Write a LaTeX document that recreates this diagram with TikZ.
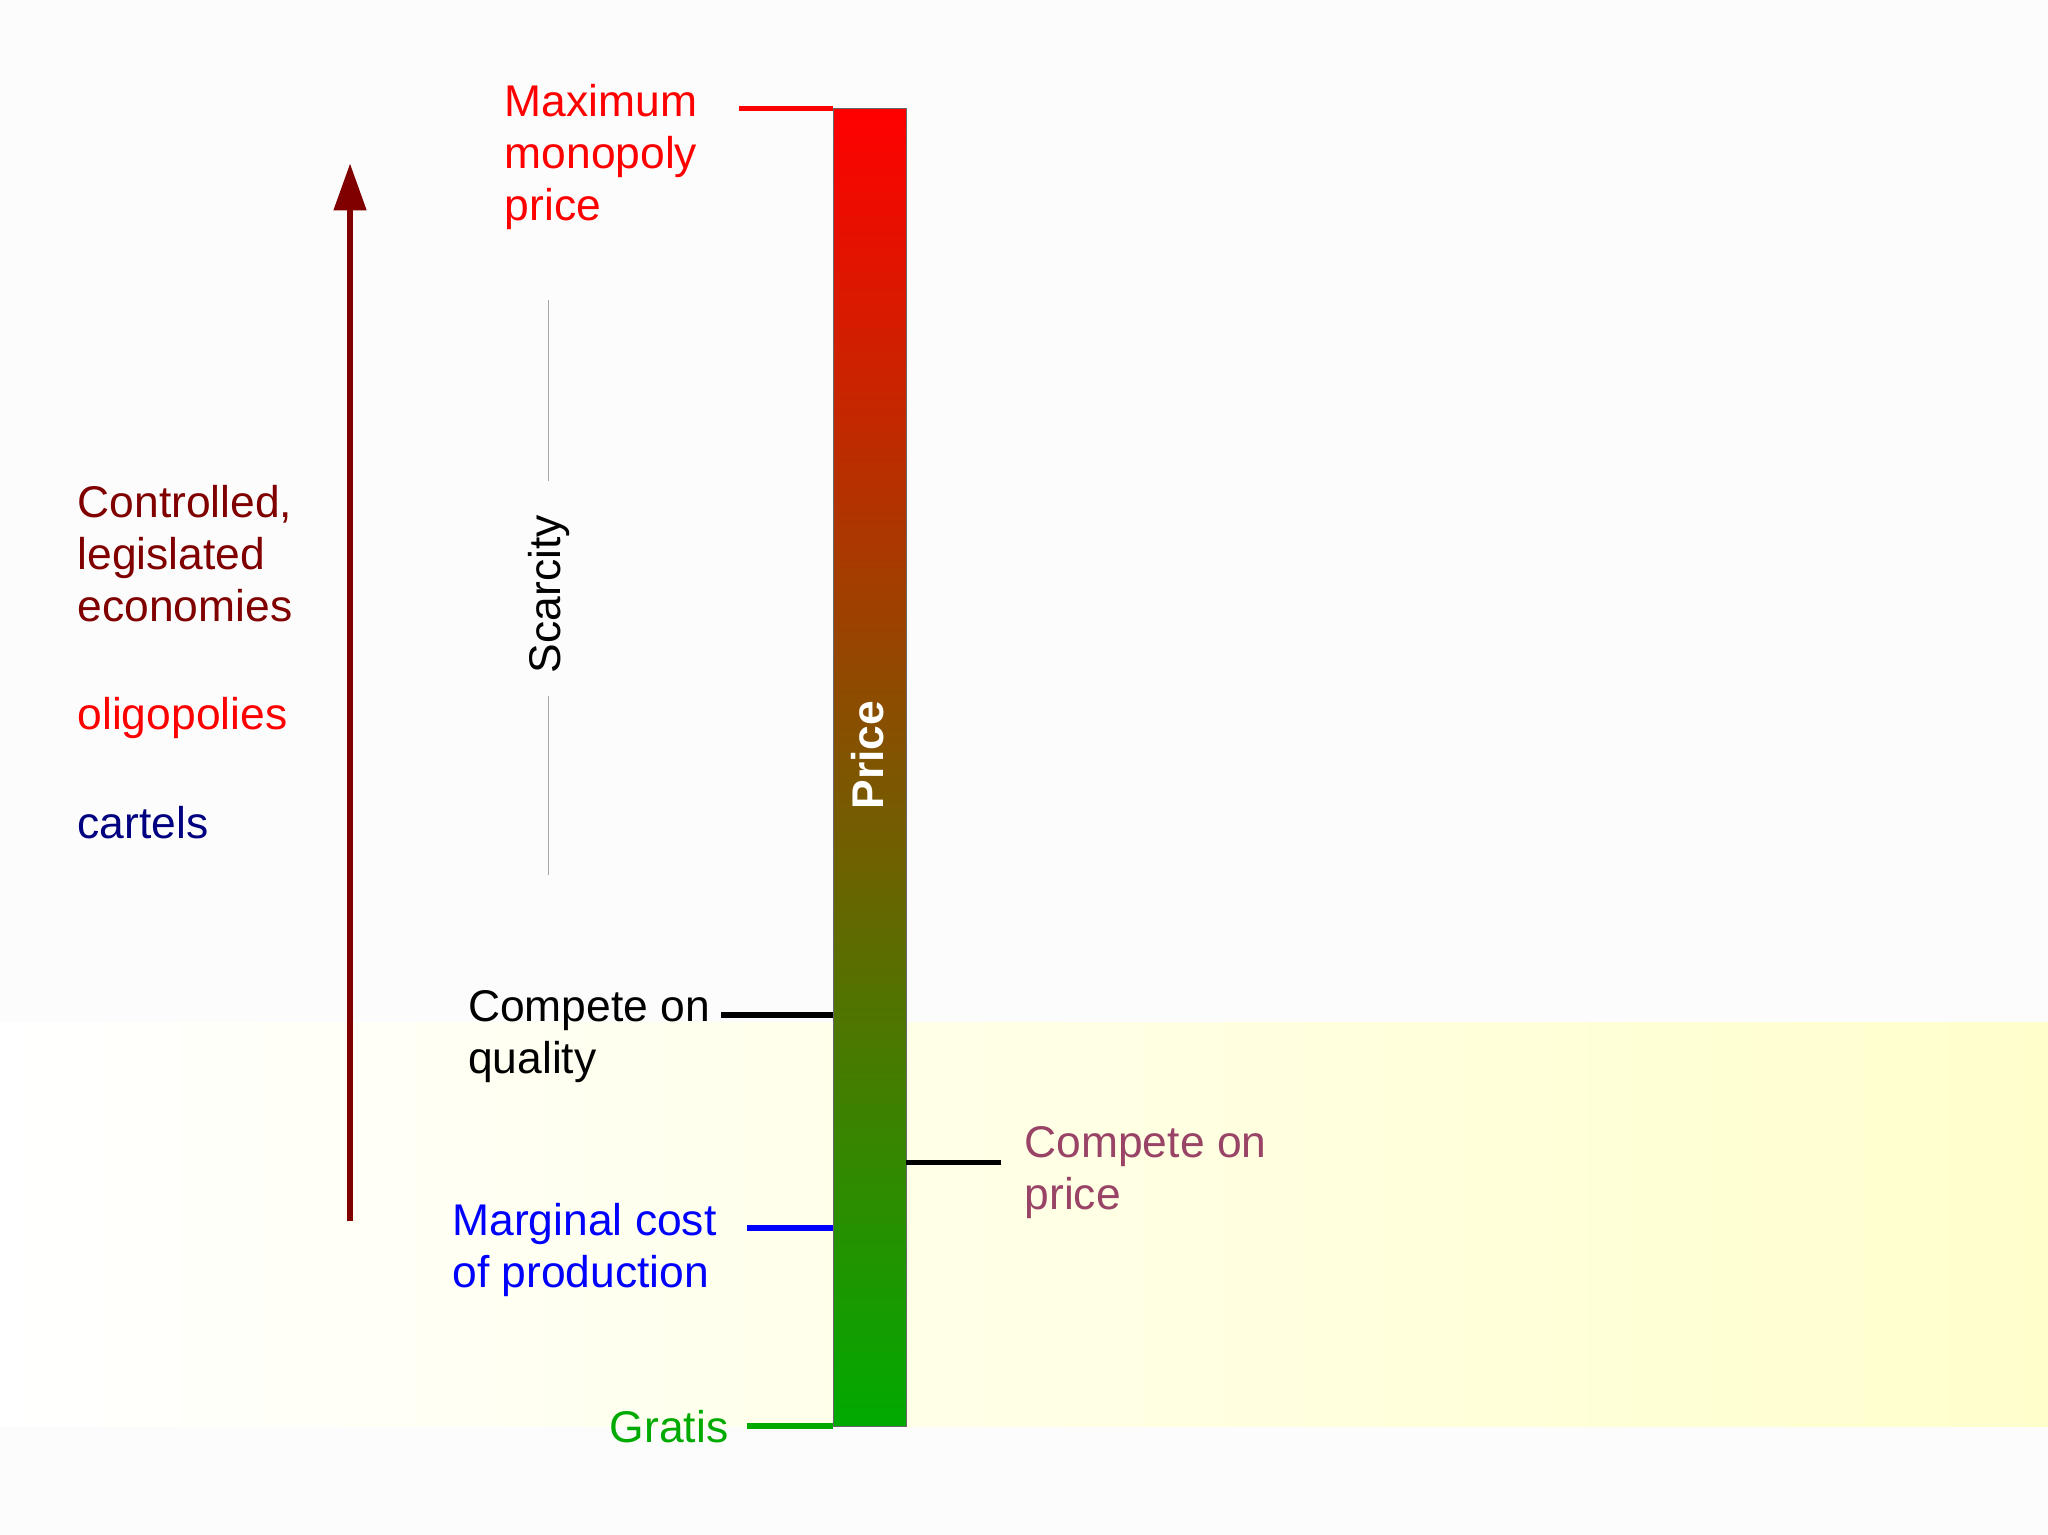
\documentclass[tikz,border=0pt]{standalone}
\usepackage{fontspec}
\usetikzlibrary{arrows.meta}
\setmainfont{Liberation Sans}
\definecolor{dred}{HTML}{800000}
\definecolor{mred}{HTML}{FF0000}
\definecolor{gr}{HTML}{00AA00}
\definecolor{pr}{HTML}{994466}
\definecolor{nv}{HTML}{000080}
\begin{document}
\begin{tikzpicture}[x=0.5pt,y=-0.5pt,
  lab/.style={font=\fontsize{17}{20}\selectfont,align=left,inner sep=0pt},
  tick/.style={line width=2.2pt}]
\useasboundingbox (0,0) rectangle (1568,1175);
\fill[white!98!gray] (0,0) rectangle (1568,1175);
\shade[left color=white, right color=yellow!20] (0,783) rectangle (1568,1092);
\shade[top color=mred, bottom color=gr, draw=black!60, line width=0.6pt] (638,83) rectangle (694,1092);
\node[font=\fontsize{17}{20}\selectfont\bfseries, text=white, rotate=90] (price) at (664,578) {Price};
\coordinate (top) at (638,83); \coordinate (topl) at (566,83);
\draw[tick, mred] (topl) -- (top);
\node[lab, text=mred, anchor=north west] (max) at (386,64) {Maximum\\monopoly\\price};
\coordinate (a1) at (268,935); \coordinate (a2) at (268,125);
\draw[dred, line width=2.5pt, -{Triangle[length=18pt,width=12pt]}] (a1) -- (a2);
\node[lab, text=dred, anchor=north west] (ctrl) at (59,371) {Controlled,\\legislated\\economies};
\node[lab, text=mred, anchor=west] (oli) at (59,550) {oligopolies};
\node[lab, text=nv, anchor=west] (car) at (59,630) {cartels};
\node[lab, rotate=90] (sc) at (420,455) {Scarcity};
\coordinate (s1) at (420,230); \coordinate (s2) at (420,368);
\coordinate (s3) at (420,533); \coordinate (s4) at (420,670);
\draw[gray!70, line width=0.5pt] (s1) -- (s2) (s3) -- (s4);
\coordinate (q1) at (552,777); \coordinate (q2) at (638,777);
\draw[tick] (q1) -- (q2);
\node[lab, anchor=north west] (qual) at (358,758) {Compete on\\quality};
\coordinate (p1) at (694,890); \coordinate (p2) at (766,890);
\draw[tick] (p1) -- (p2);
\node[lab, text=pr, anchor=north west] (cprice) at (784,862) {Compete on\\price};
\coordinate (m1) at (572,940); \coordinate (m2) at (638,940);
\draw[tick, blue] (m1) -- (m2);
\node[lab, text=blue, anchor=north west] (marg) at (346,921) {Marginal cost\\of production};
\coordinate (g1) at (572,1092); \coordinate (g2) at (638,1092);
\draw[tick, gr] (g1) -- (g2);
\node[lab, text=gr, anchor=east] (grat) at (558,1092) {Gratis};
\end{tikzpicture}
\end{document}
